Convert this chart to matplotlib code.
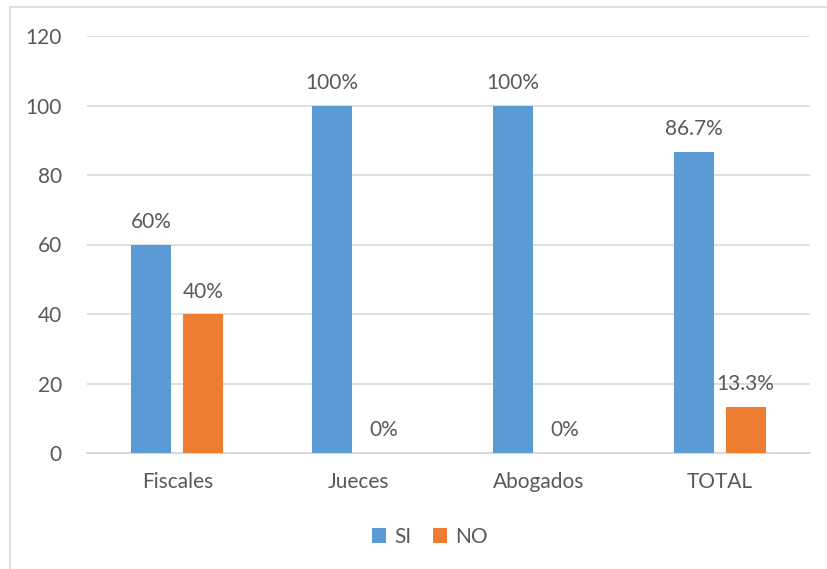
import matplotlib.pyplot as plt
import numpy as np
from matplotlib.patches import Rectangle

# Datos del grafico
categorias = ["Fiscales", "Jueces", "Abogados", "TOTAL"]
si = [60, 100, 100, 86.7]
no = [40, 0, 0, 13.3]
etiquetas_si = ["60%", "100%", "100%", "86.7%"]
etiquetas_no = ["40%", "0%", "0%", "13.3%"]

plt.rcParams['font.family'] = ['Lato', 'DejaVu Sans']
gris = '#595959'
fs = 15

fig = plt.figure(figsize=(8.28, 5.69), dpi=100)
ax = fig.add_axes([87 / 828, 1 - 453 / 569, (810 - 87) / 828, (453 - 36) / 569])

# Borde del area del grafico (recortado a la derecha y abajo)
fig.patches.append(Rectangle((10 / 828, -0.1), 1.2, 1 - 7 / 569 + 0.1,
                             transform=fig.transFigure, fill=False,
                             edgecolor='#D9D9D9', linewidth=1.2))

x = np.arange(len(categorias))
ancho = 0.221
desp = 0.144

b1 = ax.bar(x - desp, si, ancho, color='#5B9BD5', label='SI', zorder=3)
b2 = ax.bar(x + desp, no, ancho, color='#ED7D31', label='NO', zorder=3)

for rect, txt in zip(b1, etiquetas_si):
    ax.annotate(txt, (rect.get_x() + rect.get_width() / 2, rect.get_height()),
                xytext=(0, 9), textcoords='offset points', ha='center', va='bottom',
                fontsize=fs, color=gris)
for rect, txt in zip(b2, etiquetas_no):
    ax.annotate(txt, (rect.get_x() + rect.get_width() / 2, rect.get_height()),
                xytext=(0, 9), textcoords='offset points', ha='center', va='bottom',
                fontsize=fs, color=gris)

ax.set_xlim(-0.5, 3.5)
ax.set_ylim(0, 120)
ax.set_yticks(range(0, 121, 20))
ax.set_xticks(x)
ax.set_xticklabels(categorias)
ax.tick_params(axis='both', length=0, labelsize=fs, labelcolor=gris)
ax.tick_params(axis='y', pad=18)
ax.tick_params(axis='x', pad=14)
ax.grid(axis='y', color='#D9D9D9', linewidth=1.2, zorder=0)
for s in ['top', 'right', 'left']:
    ax.spines[s].set_visible(False)
ax.spines['bottom'].set_color('#D9D9D9')
ax.spines['bottom'].set_linewidth(1.5)

ax.legend(loc='center', bbox_to_anchor=(430 / 828, 1 - 537 / 569),
          bbox_transform=fig.transFigure, ncol=2, frameon=False,
          fontsize=fs, labelcolor=gris, handlelength=0.7, handleheight=0.7,
          columnspacing=1.0, handletextpad=0.4)

fig.savefig('out.png', dpi=100)
